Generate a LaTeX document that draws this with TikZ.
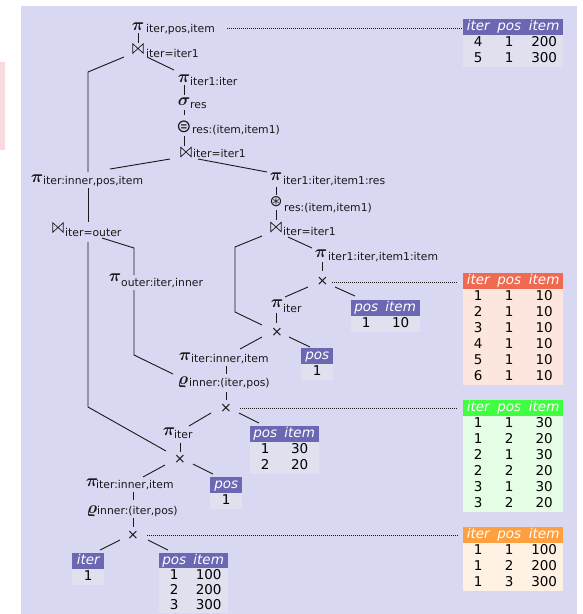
\documentclass[tikz,border=0pt]{standalone}
\usepackage{fontspec}
\usepackage{bm}
\setmainfont{DejaVu Sans}
\usetikzlibrary{matrix,backgrounds}
\definecolor{bgc}{RGB}{216,216,242}
\definecolor{pinkc}{RGB}{249,217,220}
\definecolor{hdrc}{RGB}{108,103,178}
\definecolor{bodyc}{RGB}{224,224,238}
\definecolor{redh}{RGB}{240,106,80}
\definecolor{redb}{RGB}{253,230,221}
\definecolor{grnh}{RGB}{64,255,64}
\definecolor{grnb}{RGB}{229,253,229}
\definecolor{orah}{RGB}{255,160,64}
\definecolor{orab}{RGB}{255,241,228}
\definecolor{lnc}{RGB}{25,25,25}
\newcommand\subsz{\fontsize{10.8}{12}\selectfont}
\newcommand\tabsz{\fontsize{13.5}{15}\selectfont}
\newcommand\bowt{\tikz[x=1pt,y=1pt,line width=0.7pt,line join=miter]\draw[lnc] (0,0)--(0,9.5)--(10.5,0)--(10.5,9.5)--cycle;}
\newcommand\piop{$\bm{\pi}$}
\tikzset{
  conn/.style={draw=lnc, line width=0.9pt},
  dots/.style={draw=lnc, line width=1pt, dash pattern=on 1pt off 1pt},
  sym/.style={inner sep=0pt, text=lnc, font=\fontsize{14}{14}\selectfont},
  grk/.style={inner sep=0pt, text=lnc, font=\fontsize{16.5}{17}\selectfont},
  lbl/.style={inner sep=0pt, anchor=base west, text=lnc, font=\subsz},
  tbl/.style={matrix of nodes, anchor=north west, inner sep=0pt, column sep=0pt, row sep=0pt,
    nodes={inner sep=0pt, minimum height=16pt, text height=10pt, text depth=3pt, font=\tabsz, text=black},
    row 1/.style={nodes={text=white, font=\tabsz\itshape}}},
  tight/.style={nodes={minimum height=15pt, text height=10pt, text depth=2pt}},
  cthree/.style={column 1/.style={nodes={minimum width=30pt}},
    column 2/.style={nodes={minimum width=32pt}},
    column 3/.style={nodes={minimum width=38pt}}},
  ctwo/.style={column 1/.style={nodes={minimum width=30pt}},
    column 2/.style={nodes={minimum width=39pt}}},
  cone/.style={column 1/.style={nodes={minimum width=32pt}}},
}
\newcommand\tabfill[3]{%
  \begin{scope}[on background layer]
    \fill[#2] (#1.north west) rectangle (#1-1-1.south -| #1.east);
    \fill[#3] (#1-1-1.south -| #1.west) rectangle (#1.south east);
  \end{scope}}
\begin{document}
\begin{tikzpicture}[x=1pt,y=-1pt]
\useasboundingbox (0,0) rectangle (582,614);
\begin{scope}[on background layer]
\fill[bgc] (21,6) rectangle (577,614);
\fill[pinkc] (0,62) rectangle (5,150);
\end{scope}

% operators
\node[grk] (p1) at (138,27) {\piop};
\node[lbl] (p1s) at (146,32) {iter,pos,item};
\node[sym] (j1) at (138,48.5) {\bowt};
\node[lbl] (j1s) at (146,57) {iter=iter1};
\node[grk] (p2) at (184,79) {\piop};
\node[lbl] (p2s) at (190,85) {iter1:iter};
\node[grk] (s1) at (184,102) {$\bm{\sigma}$};
\node[lbl] (s1s) at (190,108) {res};
\node[sym, font=\fontsize{18}{18}\selectfont] (e1) at (184,127) {⊜};
\node[lbl] (e1s) at (192,133) {res:(item,item1)};
\node[sym] (j2) at (186,152) {\bowt};
\node[lbl] (j2s) at (193,157) {iter=iter1};
\node[grk] (p3) at (37,179) {\piop};
\node[lbl] (p3s) at (43,184) {iter:inner,pos,item};
\node[grk] (p4) at (276,177) {\piop};
\node[lbl] (p4s) at (283,184) {iter1:iter,item1:res};
\node[sym, font=\fontsize{15.5}{16}\selectfont] (a1) at (276,202) {⊛};
\node[lbl] (a1s) at (284,211) {res:(item,item1)};
\node[sym] (j3) at (276,227) {\bowt};
\node[lbl] (j3s) at (283,235) {iter=iter1};
\node[sym] (j4) at (58,227.5) {\bowt};
\node[lbl] (j4s) at (65,236) {iter=outer};
\node[grk] (p5) at (115,278) {\piop};
\node[lbl] (p5s) at (121,286) {outer:iter,inner};
\node[grk] (p6) at (321,254) {\piop};
\node[lbl] (p6s) at (328,260) {iter1:iter,item1:item};
\node[sym] (x1) at (322.5,281.5) {×};
\node[grk] (p7) at (277,304) {\piop};
\node[lbl] (p7s) at (283,312) {iter};
\node[sym] (x2) at (277,332) {×};
\node[grk] (p8) at (185,357) {\piop};
\node[lbl] (p8s) at (191,362) {iter:inner,item};
\node[grk] (r1) at (183,382) {$\bm{\varrho}$};
\node[lbl] (r1s) at (189,386) {inner:(iter,pos)};
\node[sym] (x3) at (226,408) {×};
\node[grk] (p9) at (169,432) {\piop};
\node[lbl] (p9s) at (174,438) {iter};
\node[sym] (x4) at (180,459) {×};
\node[grk] (p10) at (92,483) {\piop};
\node[lbl] (p10s) at (96,488) {iter:inner,item};
\node[grk] (r2) at (92,511) {$\bm{\varrho}$};
\node[lbl] (r2s) at (97,514) {inner:(iter,pos)};
\node[sym] (x5) at (133,535) {×};

% tables
\matrix (tA) [tbl, cthree] at (463,19) { iter & pos & item \\ 4 & 1 & 200 \\ 5 & 1 & 300 \\ };
\tabfill{tA}{hdrc}{bodyc}
\matrix (tB) [tbl, cthree] at (463,273) { iter & pos & item \\ 1 & 1 & 10 \\ 2 & 1 & 10 \\ 3 & 1 & 10 \\ 4 & 1 & 10 \\ 5 & 1 & 10 \\ 6 & 1 & 10 \\ };
\tabfill{tB}{redh}{redb}
\matrix (tC) [tbl, cthree] at (463,400) { iter & pos & item \\ 1 & 1 & 30 \\ 1 & 2 & 20 \\ 2 & 1 & 30 \\ 2 & 2 & 20 \\ 3 & 1 & 30 \\ 3 & 2 & 20 \\ };
\tabfill{tC}{grnh}{grnb}
\matrix (tD) [tbl, cthree] at (463,527) { iter & pos & item \\ 1 & 1 & 100 \\ 1 & 2 & 200 \\ 1 & 3 & 300 \\ };
\tabfill{tD}{orah}{orab}
\matrix (tE) [tbl, ctwo] at (351,300) { pos & item \\ 1 & 10 \\ };
\tabfill{tE}{hdrc}{bodyc}
\matrix (tF) [tbl, cone] at (301,348) { pos \\ 1 \\ };
\tabfill{tF}{hdrc}{bodyc}
\matrix (tG) [tbl, ctwo] at (250,426) { pos & item \\ 1 & 30 \\ 2 & 20 \\ };
\tabfill{tG}{hdrc}{bodyc}
\matrix (tH) [tbl, cone] at (210,477) { pos \\ 1 \\ };
\tabfill{tH}{hdrc}{bodyc}
\matrix (tI) [tbl, cone] at (72,553) { iter \\ 1 \\ };
\tabfill{tI}{hdrc}{bodyc}
\matrix (tJ) [tbl, tight, ctwo] at (159,553) { pos & item \\ 1 & 100 \\ 2 & 200 \\ 3 & 300 \\ };
\tabfill{tJ}{hdrc}{bodyc}

% connectors
\draw[conn] (138,33) -- (138,43);
\draw[conn] (124,57) -- (88,72) -- (88,172);
\draw[conn] (147,57) -- (174,70);
\draw[conn] (184,85) -- (184,95);
\draw[conn] (184,110) -- (184,115);
\draw[conn] (184,136) -- (184,146);
\draw[conn] (170,159) -- (110,169);
\draw[conn] (88,188) -- (88,222);
\draw[conn] (88,242) -- (88,407) -- (166,451);
\draw[conn] (102,238) -- (134,248) -- (134,275);
\draw[conn] (134,290) -- (134,355) -- (173,374);
\draw[conn] (198,159) -- (267,172);
\draw[conn] (276,187) -- (276,195);
\draw[conn] (276,210) -- (276,220);
\draw[conn] (262,236) -- (235,247) -- (235,312) -- (262,325);
\draw[conn] (288,237) -- (312,248);
\draw[conn] (322,262) -- (322,271);
\draw[conn] (308,287) -- (285,297);
\draw[conn] (335,287) -- (355,296);
\draw[conn] (276,313) -- (276,323);
\draw[conn] (262,337) -- (240,349);
\draw[conn] (289,337) -- (310,347);
\draw[conn] (226,366) -- (226,374);
\draw[conn] (226,392) -- (226,400);
\draw[conn] (211,413) -- (189,426);
\draw[conn] (239,413) -- (259,423);
\draw[conn] (180,443) -- (180,452);
\draw[conn] (165,465) -- (143,477);
\draw[conn] (193,464) -- (213,474);
\draw[conn] (133,492) -- (133,500);
\draw[conn] (133,518) -- (133,527);
\draw[conn] (120,540) -- (100,550);
\draw[conn] (148,540) -- (168,550);

% dotted links to result tables
\draw[dots] (227,28) -- (tA.west |- 0,28);
\draw[dots] (332,282) -- (457,282);
\draw[dots] (240,408) -- (458,408);
\draw[dots] (147,535) -- (458,535);
\end{tikzpicture}
\end{document}
